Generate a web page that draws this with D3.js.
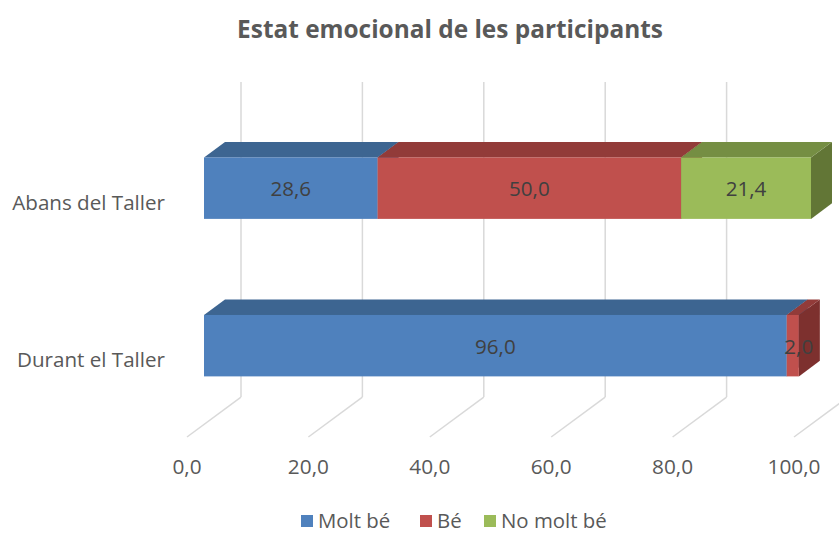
<!DOCTYPE html>
<html><head><meta charset="utf-8">
<script src="https://cdn.jsdelivr.net/npm/d3@7"></script>
<style>body{margin:0;background:#fff}svg{display:block}text{font-family:"Open Sans",sans-serif}</style>
</head><body>
<svg id="chart" width="839" height="534"></svg>
<script>
const categories = ["Abans del Taller", "Durant el Taller"];
const seriesNames = ["Molt bé", "Bé", "No molt bé"];
const moltBe = [28.6, 96.0];
const be = [50.0, 2.0];
const noMoltBe = [21.4, 0];
const tickValues = [0, 20, 40, 60, 80, 100];
const frontColors = ["#4F81BD", "#C0504D", "#9BBB59"];
const topColors = ["#3D6591", "#923B39", "#758E43"];
const sideColors = ["#34557C", "#7D302E", "#627636"];

const svg = d3.select("#chart");
const k = 0.74;             // depth slope (dy per dx)
const D = 54;               // total depth in px (x)
const d1 = 17, d2 = 38;     // bar front/back depth
const fmt = v => v.toFixed(1).replace(".", ",");

const x = d3.scaleLinear().domain([0, 100]).range([187, 794]);
const yTop = 122, yBot = 437;
const y = d3.scaleBand().domain(categories).range([yTop, yBot]).paddingInner(0.61).paddingOuter(0.305);
const P = (px, py, d) => [px + d, py - d * k];

// Title
svg.append("text").attr("x", 450).attr("y", 28).attr("text-anchor", "middle")
  .attr("dominant-baseline", "central").attr("font-size", 24.4).attr("font-weight", "bold")
  .attr("fill", "#595959").text("Estat emocional de les participants");

// Back wall gridlines & floor diagonals
const grid = svg.append("g").attr("stroke", "#D9D9D9").attr("stroke-width", 1.5).attr("fill", "none");
tickValues.forEach(v => {
  const b1 = P(x(v), yTop, D), b2 = P(x(v), yBot, D), f = [x(v), yBot];
  grid.append("line").attr("x1", b1[0]).attr("y1", b1[1]).attr("x2", b2[0]).attr("y2", b2[1]);
  grid.append("line").attr("x1", b2[0]).attr("y1", b2[1]).attr("x2", f[0]).attr("y2", f[1]);
});

// Tick labels
svg.append("g").selectAll("text").data(tickValues).join("text")
  .attr("x", d => x(d)).attr("y", 466).attr("text-anchor", "middle").attr("dominant-baseline", "central")
  .attr("font-size", 20.8).attr("fill", "#595959").text(d => fmt(d));

// Category labels
svg.append("g").selectAll("text").data(categories).join("text")
  .attr("x", 165).attr("y", d => y(d) + y.bandwidth() / 2 + 1).attr("text-anchor", "end")
  .attr("dominant-baseline", "central").attr("font-size", 20.6).attr("fill", "#595959").text(d => d);

// Bars
const series = [moltBe, be, noMoltBe];
const poly = pts => pts.map(p => p.join(",")).join(" ");
categories.forEach((c, i) => {
  let acc = 0;
  const g = svg.append("g");
  const y0 = y(c), y1 = y(c) + y.bandwidth();
  series.forEach((s, j) => {
    const v = s[i];
    if (!v) return;
    const a = x(acc), b = x(acc + v);
    acc += v;
    g.append("polygon").attr("fill", sideColors[j])
      .attr("points", poly([P(b, y0, d1), P(b, y0, d2), P(b, y1, d2), P(b, y1, d1)]));
    g.append("polygon").attr("fill", topColors[j])
      .attr("points", poly([P(a, y0, d1), P(b, y0, d1), P(b, y0, d2), P(a, y0, d2)]));
    const f0 = P(a, y0, d1), f1 = P(b, y1, d1);
    g.append("rect").attr("x", f0[0]).attr("y", f0[1]).attr("width", f1[0] - f0[0]).attr("height", f1[1] - f0[1])
      .attr("fill", frontColors[j]);
    g.append("text").attr("class", "lbl")
      .attr("x", (f0[0] + f1[0]) / 2 + (j === 1 && i === 1 ? 6 : 0)).attr("y", (f0[1] + f1[1]) / 2)
      .attr("text-anchor", "middle").attr("dominant-baseline", "central")
      .attr("font-size", 20.6).attr("fill", "#404040").text(fmt(v));
  });
});
svg.selectAll("text.lbl").raise();

// Legend
const legX = [301, 420, 484];
const leg = svg.append("g");
seriesNames.forEach((n, j) => {
  leg.append("rect").attr("x", legX[j]).attr("y", 515).attr("width", 12).attr("height", 12).attr("fill", frontColors[j]);
  leg.append("text").attr("x", legX[j] + 17).attr("y", 520).attr("dominant-baseline", "central")
    .attr("font-size", 20.4).attr("fill", "#595959").text(n);
});
</script>
</body></html>
